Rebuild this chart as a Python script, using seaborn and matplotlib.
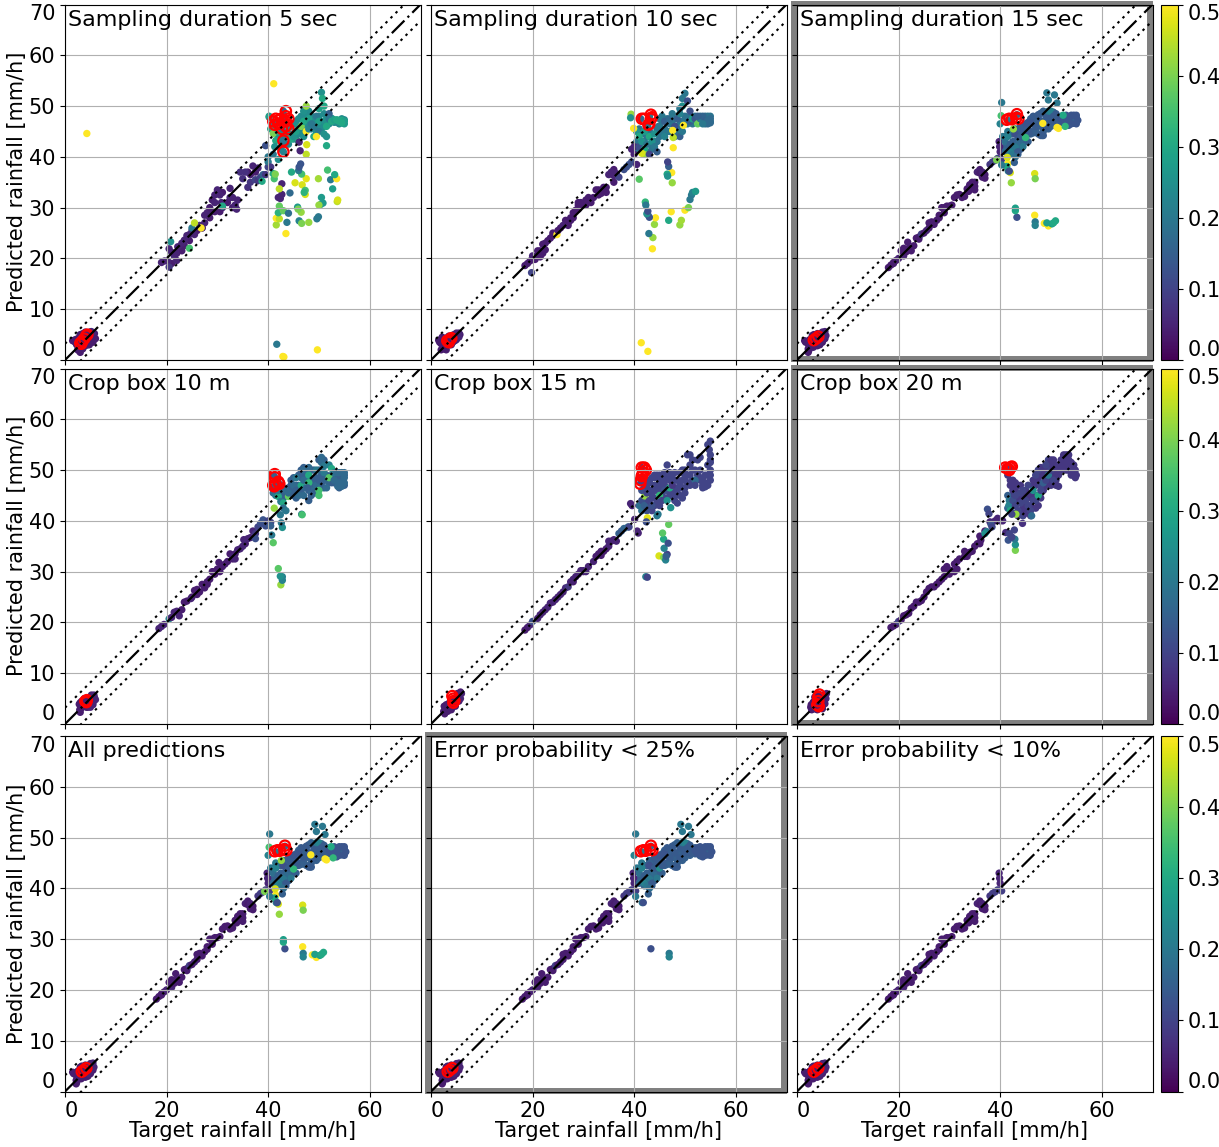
import numpy as np
import matplotlib
matplotlib.use('Agg')
import matplotlib.pyplot as plt
from matplotlib.cm import ScalarMappable
from matplotlib.colors import Normalize
from matplotlib.patches import Rectangle
import seaborn as sns

x_ticks = [0, 20, 40, 60]
y_ticks = [0, 10, 20, 30, 40, 50, 60, 70]
cbar_ticks = [0.0, 0.1, 0.2, 0.3, 0.4, 0.5]
band = 3.2

# Sampling duration 5 sec
s5_x = [1.5,2,2.5,2.8,3,3.5,4,5.2,5.5,6,5.5,4.8,4,3,2.5,3.5,4.5,5,
        19,19.6,20.2,20.5,20.5,21,21.5,21.8,22,22.2,20.8,23,23.5,24,24.5,24.5,25,25.5,25,26.5,27,27.5,25.5,26.8,27.5,28,28.5,29.5,29.5,30,30.5,30.8,31,29.5,30.5,31,32.5,32.5,33,33.5,33.8,34,34.5,35,35.5,36,36.5,37,37.5,38,38,38.5,39,39.5,39.5,40,40,40.5,40,41,38.8,
        40.2,40.2,40.5,41,41.5,41.3,41,42,42,42.5,43,43.5,44,44.5,45,45.5,46,46,46.5,47,47,47,47.5,47.5,48,48,48.5,49,49,49.5,50,50,50,50.5,50.7,51,51,51,51.5,52,52,52.5,53,53.5,54,54.5,55,55,54.5,53.7,51.5,49.5,
        41,42.7,43,43.3,43,43,
        4.3,41.1,41.7,42.9,43.1,49.7,43.5,41.6,41.6,42.2,43.7,42,43,44,42.2,46.1,46.6,48,49.6,49.9,45.8,46.5,45.9,50.3,50.8,50,53.6,53.7,50.5,52.7,42.7,42,42.7,42.4,42.2,44.3,45.3,46.7,47.5,47.3,47.3,47.1,52.3,49.9,53.5,53.1,51.7,44.6,46.6,46,46.4,46.1,41.2,41.4,47.5,46.3,47.6,51.5,46.1]
s5_y = [3.8,3.5,2,1.8,4.8,5.2,5.5,5.6,5,4.2,3.5,3,2.8,3,4.2,2.2,4,4.5,
        19.2,19.5,19.5,18.3,21.9,21.2,20.5,21,19.6,22.3,23.3,23,23.6,24.5,24.7,22,25.5,24.7,26,26.5,26,27,27,26,28.5,29,30,31,32.5,33.5,32.5,31,30,29.2,29.2,30.3,32,33.8,32,30.5,29.7,31.5,37,35.7,37,34,35,38.2,35.5,37.8,35.3,36,36.5,36.5,42.2,38,39,38,40,36.7,35.2,
        47.8,48,45.5,44.6,43.2,42,40.5,45,39.5,41.5,43.5,42.5,44,43.5,44,45,46,43,46,44,47,49,50,45,45.5,47.5,46.5,44,46,48,45,47,49.5,52.7,51.5,50,44.5,47,46,48.5,47.5,47,47.3,47.3,47,47.2,47,46.5,46.7,47.2,44,44,
        46.8,45.5,49,47.3,43.2,41,
        44.6,54.4,3.1,0.7,0.6,2,24.9,26.6,27.9,27.8,27.1,29,29.4,28.9,30.3,27.4,26.9,27.1,27.8,28.2,30.1,29.1,29.7,30.6,30.9,30.5,31.2,31.5,32,33.7,34.7,32,32.6,31.8,33.7,32.9,34.9,34.5,35.7,33.4,32.6,33,35.5,35.7,35.7,36.5,37.4,37,36.6,37.3,38.6,38,35.7,36.6,40.5,41.2,42.4,42.2,42.9]
s5_c = [.04,.04,.04,.04,.04,.04,.05,.05,.05,.04,.04,.04,.04,.04,.04,.04,.04,.04,
        .05,.05,.05,.08,.05,.05,.06,.05,.05,.05,.25,.05,.05,.05,.05,.35,.06,.05,.2,.06,.05,.05,.45,.5,.05,.05,.04,.05,.05,.05,.05,.05,.05,.04,.04,.3,.05,.05,.05,.05,.05,.05,.07,.07,.07,.07,.08,.05,.1,.05,.08,.1,.15,.08,.12,.1,.2,.08,.2,.3,.3,
        .25,.28,.3,.4,.3,.25,.2,.3,.25,.2,.25,.22,.27,.3,.25,.28,.25,.32,.4,.25,.3,.25,.42,.5,.22,.28,.2,.3,.2,.2,.2,.28,.28,.25,.3,.3,.25,.25,.3,.15,.2,.3,.28,.3,.3,.3,.28,.27,.3,.3,.25,.5,
        .22,.2,.17,.17,.2,.22,
        .5,.5,.2,.5,.5,.5,.5,.43,.5,.45,.2,.32,.38,.18,.38,.22,.4,.42,.2,.2,.27,.42,.4,.3,.27,.42,.45,.47,.27,.28,.05,.05,.05,.05,.45,.17,.47,.47,.48,.35,.47,.32,.2,.43,.5,.3,.35,.3,.35,.2,.13,.13,.35,.4,.45,.05,.47,.3,.05]
s5_ring_x = [3,3.4,3.8,4.2,4.4,3.2,41,41.5,42,41.3,42,42.5,43,43.5,43.5,44,43.5,44,42.7,43,43,43.5]
s5_ring_y = [3.3,3.7,4.2,4.8,5,3.2,47,47.5,47.2,46.3,46.5,47.5,47,49,48,47.5,46,45.5,45.5,43.2,41,47]
s5_top_c = 0.24
s5_top_x = [41,41.5,42,42,42.5,43,43.5,44,44,44.5,44.5,45,45,45.5,45.5,46,46,46.5,46.5,47,47,47.5,47.5,48,48,48.5,48.5,49,49.5,49.5,50,50,50.5,50.5,51,51,51.5,52,52,52.5,53,53.5,54,54.5,55]
s5_top_y = [46,45,44,47,43,45,44.5,46,42.5,46,44.5,46.5,43.5,47,44,47.5,45,48,44.5,46,45,48,46.5,46.5,49,45.5,48,47,46,45,48,46,47,45.5,48.5,46,47.5,47,46.5,47.6,46.8,46.8,46.5,47.5,47.3]
s5_low_x = [2,2.3,2.7,3,3.2,3.5,4,4.5,4.5,5,5.5,5,5.8,3,3.7,22,23,23.5,26,28.5,21,24.5,27,28.5,31,33,36,36.5,37.5,32,29]
s5_low_y = [4,3,2.5,1.5,4,3,4,5.2,3,4,4.2,5.5,5.2,5,4.8,21,21.5,22.5,25.5,29,19,23.5,26,28,33,30,37,36.5,37,31,31.5]

# Sampling duration 10 sec
s10_x = [1.5,2,2.2,2.5,3,3.3,3.5,4.5,5,5.5,5.5,4.7,4,3,2,
         18.5,19,19.5,20,20.5,21,21.5,21.5,22,22.5,23,23.5,24,24.8,25,25.5,26,27,27.5,27.5,28,28.5,29,29.5,30,30.5,30.5,31,32,32.5,33,33.5,34,35,35.5,36,36.5,37,38,38.5,39,39.5,40,40,39.5,40.5,41,
         40.5,41,41.5,42,42,42,41.5,42.5,43,43,43.5,44,44,44.5,44.8,45,45.5,45.5,46,46,47,47,47.5,48,48,48.5,49,49,49.5,49.5,50,49.5,50.5,51,51,51.5,52,52.5,53,53,53.5,54,54.5,55,55,54.5,53.5,52.5,49,
         41.3,43.2,42.7,43,
         41.4,42.7,43.6,43.7,42.9,44,44.2,42.7,43,42.5,42.7,42.2,42.3,46.8,47.3,49,49.3,50,50.7,51,51.3,51.5,52.1,47.5,47.4,46.5,46.6,46.8,46.6,41,47.7,47.7,47.6,49.7,39.4,39.3,39.9,19.8]
s10_y = [3.9,3.2,4.5,2.2,2.8,3.5,4.7,4.5,5.3,5.3,4.5,3.8,3,4.3,2,
         18.6,19,19.5,20.5,19.8,20.5,20.3,21.5,22.8,23,23.5,24,24.5,24.7,25.5,26,26.5,27,27.5,28,29,29.5,30.5,31,30.5,30.5,31.5,32,32,33.5,32.5,32.8,34,36.5,37,36.3,36.7,36,37.5,38,38.5,39,40.5,42,41.5,38.5,42,
         45,44,43,45,41.5,40.5,40.7,42.5,44,40.5,43,42,44.5,41,46,47.5,45,48,47,44,47.5,45,48.5,46,44,47.5,44,48.5,50,45,52.5,51.5,51,49,47,47.5,47.5,46.5,47,47.5,48,47,47.2,47.5,46.7,46.5,46.5,48,49.5,
         47.5,47.2,46,48,
         3.4,1.7,21.9,24.1,24.9,26.7,28,28.6,28.1,28.8,29.3,31.1,30.5,27.5,29.2,26.6,27.5,29.5,30,31.6,32.5,33,33.2,34.9,36.9,36.6,36.2,38.1,39,35.6,41.8,43.8,45.2,46.2,48.4,47.7,45.6,17.2]
s10_c = [.04,.04,.04,.04,.04,.04,.04,.05,.05,.05,.05,.05,.04,.04,.04,
         .04,.04,.04,.05,.04,.04,.04,.04,.04,.04,.04,.04,.04,.5,.04,.04,.05,.04,.04,.04,.04,.04,.04,.04,.04,.04,.04,.04,.04,.04,.04,.04,.04,.05,.05,.05,.05,.1,.12,.12,.13,.12,.05,.05,.05,.05,.12,
         .25,.3,.25,.27,.3,.42,.47,.2,.3,.1,.25,.2,.25,.15,.2,.2,.2,.2,.15,.22,.17,.2,.2,.12,.17,.15,.15,.22,.25,.2,.2,.2,.12,.12,.15,.28,.13,.38,.4,.2,.16,.15,.17,.17,.17,.17,.2,.15,.2,
         .17,.2,.2,.2,
         .5,.5,.5,.42,.2,.42,.5,.15,.13,.25,.12,.33,.2,.3,.5,.42,.43,.5,.4,.2,.2,.22,.27,.42,.5,.3,.25,.15,.1,.37,.5,.45,.5,.5,.42,.25,.5,.1]
s10_ring_x = [3.2,3.7,4,3.5,41.5,42,43.3,43.3,43.5,42.8,43]
s10_ring_y = [3.8,4,4.3,3.5,47.5,47.5,48.3,47.5,47.8,46.3,46.5]
s10_top_c = 0.19
s10_top_x = [40.5,40.5,41,41,41.5,41.5,42,42.5,42.5,43,43,43.5,43.5,44,44.5,44.5,45,45,45.5,46,46.5,46.5,47,47.5,48,48,48.5,49,49,49.5,50,50,50.5,50.5,51,51.5,52,52,52.5,53,53.5,54,54.5,55,54,55]
s10_top_y = [43,41.5,42,45.5,44.5,41.5,43,44,41,42.5,45,44.5,41.5,43,45.5,43,46,44,47,45.5,47.5,45,46.5,47,47.5,45,46,46.5,45,47,48,46.5,47.5,46.5,48,46.5,47,48,47.5,48,47,48,48,48,46.5,47]
s10_low_x = [1.7,2.5,2.8,3,3.7,4,4.3,4.5,5,5.3,5.7,2,21,22,22.5,24,26.5,27,28,29,29,31.5,33,34.5,34.5,36,36]
s10_low_y = [3.5,3,4,2,3,3.7,3.5,5,4,4.7,5,4,21.5,21,21.7,25,27.5,26.5,28,29.7,31,31,33.5,33,34,35,37.5]

# Sampling duration 15 sec and "All predictions" are the same set of points
all_x = [1.5,2,2.2,2.5,2.3,3,3.5,4,4.5,5,5.5,5.7,5,4.5,3,4,3.3,
         18,18.5,19,19.5,20,20.5,21,21,21.5,21.8,22,22.5,23,23.5,24,24.5,25,25.5,26,26.5,27,27.5,28,28.5,29,29.5,30,30.5,31,32,32.5,33.5,34,34.5,34.5,35,35.5,36,36.5,37,37,38,38.5,39,39.5,40,39.8,39.9,40.3,
         40.5,41,41,41.5,41.5,42,42,42.5,42.5,43,43,43.5,43,43.8,44,44,44.5,44.5,45,45,45.5,46,46,46.5,47,47,47.5,48,48,48.5,48.5,49,49,49.5,50,50,50.5,51,51,51.5,52,52.5,53,53.5,54,54.5,55,55.3,55,54,53.5,52.5,
         41.5,43.3,
         43.3,43,43,46.8,46.9,46.9,48.7,49.5,49.2,50.2,50.5,50.9,42.2,46.8,46.9,42,41.6,41.5,42.8,41.3,39.3,41.4,41.8,40.3,
         40.3,40,40.2,42.6,45,51.5,51.2,52.8,52.4,48.4,49.2,49.5,51.2,50.7]
all_y = [3.8,3.6,2.2,3,1.8,4.8,3,2.8,3.5,5.5,5.6,4.8,4,4.7,3.5,5.2,5,
         18.2,18.7,19.2,19.6,20,21.5,21.5,20.5,21.3,23.2,22,21.5,22.5,24,24.2,24.8,25,25.5,27,27.2,26.7,27.5,28.5,30,30,30.3,30.3,30.5,32,32.6,32,33.7,34.5,35,33.8,34.2,37,36.8,37,36.5,35.8,38.5,39,39.3,39.7,41,43,42,39.5,
         44,43,41,45,44,42.5,41,43,40.5,44.5,42,41,40,43,46,44,45,42,46.5,44,44.5,47,45,48,45,46,48.3,47,44.2,49,44.2,48,46,49,49,47,48,48.5,47,47,47.5,48,48.2,47.5,48.2,48.2,48.2,47.2,46.5,46.5,46.2,46.8,
         47.2,48.3,
         28.1,29.4,29.9,28.5,27.2,26.5,26.9,26.4,27,26.8,27,27.4,34.9,36.7,35.7,36.9,37.2,38.7,38.9,38.1,39.4,39.9,37.2,38.4,
         50.7,46.5,48.1,45.5,43.8,45.6,45.8,46,48.2,46.6,52.6,51.2,50.6,52.2]
all_c = [.04,.04,.04,.04,.04,.04,.04,.04,.05,.05,.05,.05,.05,.05,.04,.05,.04,
         .04,.04,.04,.04,.05,.04,.04,.05,.04,.04,.04,.04,.04,.04,.04,.09,.04,.05,.04,.04,.04,.04,.04,.04,.04,.04,.04,.04,.04,.04,.04,.04,.04,.04,.04,.04,.05,.04,.05,.04,.04,.08,.09,.09,.09,.05,.05,.05,.09,
         .2,.18,.17,.2,.22,.15,.22,.15,.2,.12,.2,.14,.18,.17,.14,.14,.14,.2,.13,.24,.14,.13,.14,.14,.15,.14,.14,.14,.14,.15,.14,.14,.14,.2,.22,.14,.14,.14,.14,.14,.13,.13,.13,.13,.13,.13,.13,.13,.13,.13,.13,.13,
         .2,.17,
         .12,.3,.28,.5,.2,.22,.5,.5,.28,.28,.3,.3,.42,.47,.4,.47,.2,.5,.15,.3,.4,.47,.12,.2,
         .2,.22,.35,.42,.33,.5,.5,.33,.3,.5,.2,.2,.2,.2]
all_ring_x = [3.3,3.7,4.2,41.3,41.8,42.3,43.3,43.6,43.2]
all_ring_y = [3.9,4.2,4.6,47.3,47.5,47.4,48.4,47.5,47.7]
all_ring_c = [.04,.04,.04,.2,.2,.2,.17,.17,.17]
all_top_c = 0.15
all_top_x = [42,43,44,45,45.5,46,47,47.5,48,49,50,50.5,51,52,53,54,55,
             42.5,43,43.5,44,44.5,45,45.5,46,46.5,47,47.5,48,48.5,49,49.5,50,50.5,51,51.5,52,52.5,53,53.5,54,54.5,55,54.5,53,49.5,48.5,47.5,48.3,46.5,45.5,
             41.5,42,43,43.5,44,44.5,41,41,42.5,43.5]
all_top_y = [44.5,45.5,45,45.5,46.8,47.5,47.5,47.8,48.6,48.7,48.5,48.8,48,48,48,47.8,47.8,
             42,43,44,43,44,43,46,44.5,46.5,45.5,46.5,46,47,47,47.5,46,47,46.5,47.5,46.8,47.3,47,47,47,47,47.2,46.6,46.4,45.5,45,44.5,44.2,44.7,43,
             42,40.5,41,40.5,41.5,43,44,42,44.5,42.5]
all_low_x = [1.7,2.3,2.5,2.7,3.2,3.5,4,4.5,5,5.5,5.2,3.5,2.2,5,31.5,32.5,33,24,26,28,29,33.8,35,35,36,36.5,21,19]
all_low_y = [3.5,3,4,2.5,2.5,4.5,3.5,3,3.5,4.2,5,3.5,1.5,4.8,32.5,32.3,32.2,23.8,26,28,29,33.2,33.5,35,37.5,36,22,19]

# Crop box 10 m
c10_x = [2.8,3,3.1,3.3,4,4.5,5,5.5,6,5.7,5.5,5,3.8,4.5,3,
         18.5,19,19.5,20.5,21,21.5,22,22.5,23,23.5,24,24.8,25.5,26,26.5,27,27.5,28,28.5,29,29.5,30,30.5,30.3,31.5,32,32.5,33,33.5,34,34.5,35,35.2,36,36.5,37,37.5,38,38.5,39,39.5,40,40.5,37.5,
         41,41.5,41.5,42,42,42.5,43,43,43.5,43.5,44,44,44.5,45,45,45.5,45.5,46,46.5,47,47,47,47.5,48,48,48,48,48.5,49,49.5,49.5,50,50,50,50.5,50.5,51,51,51.5,51.5,52,52,52.5,53,53.5,54,54.5,55,55,55,54.5,53.7,54,53,47.8,
         41,41.2,42,
         42.5,42.8,42.8,42.4,42,41,40.7,42.8,42.6,40.5,42.4,41.2,46.6,46.7]
c10_y = [3.9,2.3,3,4.5,3.5,3.3,3.3,3.8,4.8,5.7,5,5,5,4.2,4.2,
         18.8,19.2,19.6,20.7,21,22,22.2,21.3,22.5,24,24.2,24.7,26.3,26.5,26,27.5,26.8,28,28.5,30,29.5,30.5,30,31.8,31.5,32,33.5,33,32.5,34.3,34.5,35,36.3,36.5,36.7,38,37.5,38.8,39.5,40.2,39,40,39.7,36.5,
         45.5,45,46,44.8,46,43.8,43.5,42.5,46,42,44.8,45.5,48,45,47,46,48.5,45,47,45,48,50,46.5,50.5,49,47.5,44,46,45.5,50,47,46,48,45,52.5,51.5,49.5,50.8,48,46.5,51,48.5,50.3,49.5,49.5,49.5,49.5,49.5,48.5,47.5,46.8,46.8,47.5,48,46.5,
         46.7,48.8,47.5,
         27.4,28.3,29,29.1,30.6,35.7,37.2,38.7,39.6,39,41.2,42.5,41.3,41.2]
c10_c = [.04,.04,.04,.04,.04,.04,.05,.05,.05,.05,.05,.05,.04,.04,.04,
         .05,.05,.05,.22,.05,.05,.05,.05,.04,.04,.04,.05,.04,.04,.04,.04,.04,.04,.04,.04,.04,.04,.04,.04,.04,.04,.04,.05,.05,.05,.05,.05,.05,.05,.05,.05,.08,.1,.12,.13,.12,.1,.1,.12,
         .17,.2,.17,.3,.2,.2,.3,.18,.17,.2,.38,.17,.15,.15,.17,.15,.2,.17,.3,.17,.17,.17,.17,.17,.3,.33,.15,.17,.15,.2,.17,.35,.15,.35,.17,.17,.2,.2,.16,.17,.22,.37,.3,.2,.17,.17,.17,.17,.17,.17,.17,.17,.17,.17,.15,
         .15,.15,.15,
         .42,.22,.22,.25,.37,.37,.2,.25,.2,.15,.2,.42,.2,.35]
c10_ring_x = [4.2,4.3,4,41,41.2,41.3,41.3,41.5,42,42.2]
c10_ring_y = [4.3,4.7,4.5,47,46.8,48.6,49.2,47.2,47.7,47.3]
c10_top_c = 0.15
c10_top_x = [41.5,42,42.5,42.5,43,43,43.5,44,44.5,44.5,45,45,45.5,45.5,46,46,46,46.5,46.5,46.5,47,47,47,47.5,47.5,48,48,48.5,48.5,48.5,49,49,49,49.5,49.5,50,50,50,50.5,50.5,51,51,51,51.5,52,52.5,52.5,53,53,53.5,54,54,54.5,54.5,55,55]
c10_top_y = [47,45,45.5,47,44.5,46.5,45,46.5,47,45.5,48.5,46,47,44.5,49,47,46,48.5,46,50,49,46.5,50.5,48,49.5,46,48,45,47,50,48,46.5,50,48.5,45.5,47,50,52,49,47.5,52,48,46.5,49,47.5,49,47.5,49,47.5,48.5,48.5,46.5,48.5,47.5,49,47]
c10_low_x = [3,3.5,3.2,3.7,4.2,4.5,4.8,5.2,5.5,5.2,5.8,2.9,25,26,28,29.5,31,33,33.5,35.5]
c10_low_y = [4,3.5,3.3,4.5,3.3,5,4,4.5,4.2,5.7,5.2,2.8,25,25.5,27.5,30,31,32.5,33.5,35.5]

# Crop box 15 m
c15_x = [2.5,2.8,3,3.3,3.5,4,4.5,5,5.5,6,5.8,4.5,3.5,
         18.5,19,19.5,20,21,21.5,22,22.5,23,23.5,24,24.5,25,25.5,26,26.5,27,27.5,28,28.5,29,29.5,30,30.5,31,32,32.5,33,33.5,34,35,35,36,36.5,37,37.5,38,38.8,39,
         41,41.5,41.5,42.1,41.5,42,42,42.5,42.5,43,43,43.5,43.5,44,44,44,44.7,45,45,45,45.5,46,46,46.5,46.5,47,47,47.5,48,48,49,49,49.5,49.5,50,50,50.5,51,51,51.5,52,52.5,52,53,53,53.5,54,54.5,55,55,55,55,54.5,55,54.8,
         41.5,41.3,41.5,
         42.3,42.6,44.9,45.8,46.2,46.5,46.3,45.9,45.8,46.7,45.6,46.8,40.8,40.6,42.6,42.4,39.3,39.6,40.1,47.2,44.7,44.5]
c15_y = [2.5,3,3.8,2.5,4,3.3,3.8,4.5,5.2,6,5,4.8,3,
         18.5,19,19.5,20.2,20.8,21.5,22,22.5,23,23.8,24,24.5,25,25.5,26,26.8,27,28,28.5,29,29.5,30.2,30.2,30,31,32,33,33.5,33.2,34,35,36,36.3,36,37.5,38,38.5,38.8,38.8,
         43,42,44,44.9,46,47,43,45.5,42,48,44,46,43,49,47,44.5,47,45,49,43,44,48,46,51,44,49.5,46.5,47,48,45,45,49.5,48,44.5,49,46.5,53,51,53,50,48,52,47,50,52.5,47,47.5,49,50,48,51.5,53,55,55.7,54,
         50.5,47.5,48.5,
         29,28.9,33.1,32.8,32.3,33.4,33,34.6,36.4,35.6,37.6,39.3,37.6,38,40.6,39.8,43.4,43,40.3,42.6,41.3,41]
c15_c = [.04,.04,.04,.04,.04,.04,.04,.05,.05,.05,.05,.05,.04,
         .04,.04,.05,.12,.05, .05,.05,.05,.05,.05, .05,.05,.05,.05,.05, .06,.08,.05,.05,.05, .05,.05,.05,.05,.05, .05,.04,.04,.04,.04, .05,.05,.05,.05,.15, .14,.16,.18,.1,
         .18,.18,.12,.42,.12, .1,.15,.1,.12,.1, .1,.1,.12,.1,.1, .1,.1,.33,.1,.1, .1,.1,.12,.1,.25, .1,.3,.08,.1,.1, .1,.1,.1,.1,.1, .1,.1,.1,.1,.1, .17,.1,.1,.1,.1, .1,.1,.1,.1,.1, .1,.1,.1,.1,.1,
         .1,.1,.1,
         .22,.1,.47,.4,.22,.1,.15,.22,.3,.12,.37,.38,.05,.05,.48,.12,.05,.05,.05,.25,.2,.2]
c15_ring_x = [4.2,4.4,4.6,4.4,41.5,42,42.3,41.8,41.5,41.3,41.2,41.6]
c15_ring_y = [5.5,5,4.6,4.2,50.5,50.5,50,49.5,48.8,48,47.3,49]
c15_top_c = 0.1
c15_top_x = [42,42,42.5,42.5,43,43,43,43.5,43.5,43.5,44,44,44,44.5,44.5,44.5,45,45,45,45.5,45.5,45.5,46,46,46,46.5,46.5,47,47,47.5,47.5,48,48,48,48.5,48.5,48.5,49,49.5,49.5,50,50,50,50.5,50.5,51,51,51.5,51.5,52,52.5,53,53.5,53.5,54,54.5,54.5,54.8,55,55,54]
c15_top_y = [46,44,47,43,46,43,47.5,48.5,45,42,48.5,46,43,49,46,44,48,46,47,49,47,45,49.5,47,44.5,48.5,46,48,45,49,45.5,49.5,46.5,44,48,46,43.5,47,50,46.5,48,50,45.5,49,47.5,49,47,48,52,50,49,48,48.5,46.5,46.7,47,51,49,52,49,49]
c15_low_x = [2.7,2.6,3,3.5,3.8,4,4.8,4.8,5.2,5.5,5.8,5.2,30,33.5,34.5,35.5,28]
c15_low_y = [2,3.5,2.5,3.5,4.5,2.8,3.5,5,5.5,4.5,6.3,6,30,34,34.5,36,28]

# Crop box 20 m
c20_x = [2.7,3,2.8,3.5,3.5,4,4.5,5,5.5,5.7,5.8,5,4,3.2,4.6,4.2,
         18.5,19,19.5,20,20.5,21,21.5,22,22.5,23,23.5,24,24.5,25,25.5,26,26.5,27,27.5,28,28.5,29,29.5,30,30.5,31,31,32,33,33.5,34,35,35.5,36,36.2,38,39,39.5,40,40.5,
         41.5,42,42.5,43,41.5,41.8,41.5,41.7,42,42.5,42.5,43,43,43.5,43.5,44,44,44.5,44.5,45,45,45.5,45.5,46,46,46.2,46.5,46.5,47,47,47.5,47.5,48,48,48,48.5,49,49,49.5,49.5,50,50,50.5,50.5,51,51.5,51.5,52,52.5,53,53.5,53.5,54,54.5,54.8,55,54.8,54,
         41,42,
         43,43,42.9,41.6,42.3,41.1,41.8,42.8,44.4,43.1,42.3,37.5,37.8,38.2,37.3,37,38.4]
c20_y = [3.3,3.2,3.8,3,4.5,2.8,3.2,3.5,4,5,6,5.5,4.3,4,5.7,5.9,
         19,19.3,19.6,20.2,20.5,21.3,21.5,21.8,22.8,23.2,24,24,24.3,25,26,26.7,27,27,27.5,28,28.5,30.5,30,30.3,30.2,30,31.5,32.5,33,33,33.8,35,35.5,37,36.2,39.8,40,40.5,40,40,
         49,48,48,46.5,45,44,42.5,43,42,44,41.5,45,43,47,42,45.5,43.5,41,46,44,41.5,47,43,42,41,41,46,44,44,49,50,45,47,46,50.5,47.5,48,51,49,52,52,50,48,50.5,47,46.8,49,52,52.5,53,52,50,49.5,49,48.5,49,50,51.5,
         50.5,50.5,
         34.2,35.3,36.4,36.2,36.8,37.7,37.5,38.2,39.5,41.3,41.3,42.3,41.4,39.3,37.9,37.5,38.8]
c20_c = [.04,.04,.04,.04,.04,.04,.05,.05,.05,.05,.05,.05,.04,.04,.04,.04,
         .04,.04,.04,.1,.04, .04,.04,.04,.04,.04, .04,.04,.04,.04,.04, .04,.04,.04,.04,.04, .04,.04,.04,.04,.04, .04,.04,.04,.04,.04, .04,.04,.04,.04,.04, .05,.05,.05,.05,.05,
         .08,.08,.08,.08,.15, .2,.15,.22,.3,.12, .1,.1,.1,.08,.1, .1,.1,.1,.1,.1, .08,.1,.1,.1,.08, .17,.25,.1,.1,.1, .1,.3,.1,.1,.08, .15,.1,.1,.2,.1, .08,.1,.1,.08,.08, .08,.08,.08,.08,.08, .08,.08,.08,.08,.08, .08,.08,.08,
         .1,.1,
         .4,.25,.2,.13,.1,.06,.1,.1,.07,.42,.1,.12,.1,.13,.2,.25,.1]
c20_ring_x = [4,4.2,4.2,4.4,4.3,41,41.5,42,41.8,42.3]
c20_ring_y = [3.8,4.5,5.3,5.8,3.5,50.5,50.3,50.5,50,50.7]
c20_top_c = 0.08
c20_top_x = [42,42.5,43,43.5,42.5,42.5,43,43.5,43.5,44,44,44,44.5,44.5,45,45,45.5,45.5,46,46,46.5,46.5,47,47,47,47.5,47.5,48,48,48.5,48.5,49,49,49.5,49.5,50,50,50,50.5,50.5,51,51,51,51.5,52,52,52.5,52.5,53,53,53.5,53.5,54,54,54.5,54.5]
c20_top_y = [47,46,47.5,45.5,45,43,44,43.5,41,44.5,47,42,43,45,42.5,46,44.5,42,45,43,47,48,47,45,42.5,48,43,49,44.5,49.5,46,47,50,47.5,50.5,51,48.5,47,49,52,51,50,48,51,51,50,51,53,52,50,53,51,50,49,50,51]
c20_low_x = [2.9,3.3,3.2,3.7,4.2,4.5,5,5,5.3,5.5,3.7,3.5,4.7,4.5,29.5,30,31.5,31.5,33,34.5,37,36,29]
c20_low_y = [2.8,3.5,4.3,3.5,3,3.8,4.5,3,5,5.5,5,5.3,4.8,5.3,31,29.5,30.5,32,34,34,38,35.5,29]


def stack(low_x, low_y, top_x, top_y, top_c, x, y, c):
    # the crowded parts go first so the odd coloured points stay on top
    xs = np.array(low_x + top_x + x)
    ys = np.array(low_y + top_y + y)
    cs = np.array([0.04] * len(low_x) + [top_c] * len(top_x) + c)
    return xs, ys, cs


s5 = stack(s5_low_x, s5_low_y, s5_top_x, s5_top_y, s5_top_c, s5_x, s5_y, s5_c)
s10 = stack(s10_low_x, s10_low_y, s10_top_x, s10_top_y, s10_top_c, s10_x, s10_y, s10_c)
allp = stack(all_low_x, all_low_y, all_top_x, all_top_y, all_top_c, all_x, all_y, all_c)
c10 = stack(c10_low_x, c10_low_y, c10_top_x, c10_top_y, c10_top_c, c10_x, c10_y, c10_c)
c15 = stack(c15_low_x, c15_low_y, c15_top_x, c15_top_y, c15_top_c, c15_x, c15_y, c15_c)
c20 = stack(c20_low_x, c20_low_y, c20_top_x, c20_top_y, c20_top_c, c20_x, c20_y, c20_c)

all_ring_x = np.array(all_ring_x)
all_ring_y = np.array(all_ring_y)
all_ring_c = np.array(all_ring_c)
keep25 = allp[2] < 0.25
keep10 = allp[2] < 0.10
ring25 = all_ring_c < 0.25
ring10 = all_ring_c < 0.10

# title, points, ring x, ring y, thick frame
panels = [
    ('Sampling duration 5 sec', s5, s5_ring_x, s5_ring_y, False),
    ('Sampling duration 10 sec', s10, s10_ring_x, s10_ring_y, False),
    ('Sampling duration 15 sec', allp, all_ring_x, all_ring_y, True),
    ('Crop box 10 m', c10, c10_ring_x, c10_ring_y, False),
    ('Crop box 15 m', c15, c15_ring_x, c15_ring_y, False),
    ('Crop box 20 m', c20, c20_ring_x, c20_ring_y, True),
    ('All predictions', allp, all_ring_x, all_ring_y, False),
    ('Error probability < 25%', [a[keep25] for a in allp], all_ring_x[ring25], all_ring_y[ring25], True),
    ('Error probability < 10%', [a[keep10] for a in allp], all_ring_x[ring10], all_ring_y[ring10], False),
]

W, H = 1219, 1147
lefts = [65, 431, 797]
tops = [4.5, 368.5, 736]
side = 355.5

plt.rcParams['font.size'] = 15

fig = plt.figure(figsize=(W / 100, H / 100), dpi=100)

for i, (title, pts, rx, ry, thick) in enumerate(panels):
    row, col = divmod(i, 3)
    x, y, c = pts
    ax = fig.add_axes([lefts[col] / W, 1 - (tops[row] + side) / H, side / W, side / H])
    sns.scatterplot(x=x, y=y, hue=c, palette='viridis', hue_norm=(0, 0.5), s=28,
                    linewidth=0, legend=False, ax=ax)
    sns.scatterplot(x=rx, y=ry, s=55, facecolor='none', edgecolor='red',
                    linewidth=1.6, legend=False, ax=ax)

    line = np.array([0, 70])
    ax.plot(line, line, color='k', ls=(0, (8, 2, 1, 2)), lw=1.6)
    ax.plot(line, line + band, color='k', ls=(0, (1.2, 2.2)), lw=1.5)
    ax.plot(line, line - band, color='k', ls=(0, (1.2, 2.2)), lw=1.5)

    ax.set_xlim(0, 70)
    ax.set_ylim(0, 70)
    ax.set_xticks(x_ticks)
    ax.set_yticks(y_ticks)
    ax.grid(True)
    ax.text(0.008, 0.985, title, transform=ax.transAxes, ha='left', va='top', fontsize=15.9)

    if col == 0:
        ax.set_ylabel('Predicted rainfall [mm/h]', labelpad=1)
        labels = ax.get_yticklabels()
        labels[0].set_va('bottom')
        labels[-1].set_va('top')
    else:
        ax.tick_params(labelleft=False)
    if row == 2:
        ax.set_xlabel('Target rainfall [mm/h]', labelpad=0)
        ax.get_xticklabels()[0].set_ha('left')
    else:
        ax.tick_params(labelbottom=False)

    if thick:
        # the heavy frame sits a little left of the axes box
        ax.add_patch(Rectangle((-3 / side, 1 / side), 1, 1, transform=ax.transAxes, fill=False,
                               edgecolor='gray', lw=4.3, clip_on=False, zorder=0.5))

    if col == 2:
        cax = fig.add_axes([1160.5 / W, 1 - (tops[row] + side) / H, 17.5 / W, side / H])
        sm = ScalarMappable(norm=Normalize(0, 0.5), cmap='viridis')
        cb = fig.colorbar(sm, cax=cax)
        cb.set_ticks(cbar_ticks)
        labels = cax.get_yticklabels()
        labels[0].set_va('bottom')
        labels[-1].set_va('top')

fig.savefig('out.png', dpi=100)
